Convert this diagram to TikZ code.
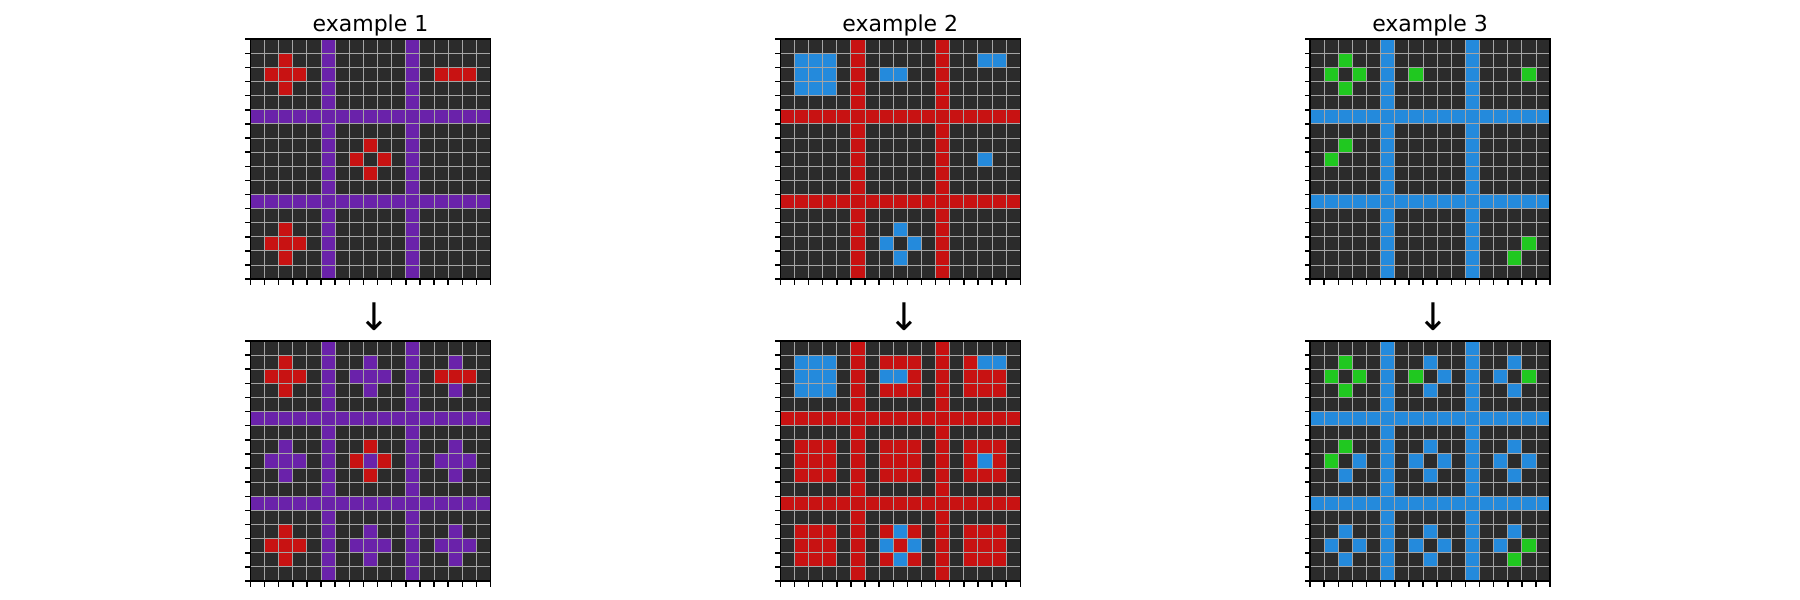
\documentclass[tikz,border=0pt]{standalone}
\usepackage{fontspec}
\setmainfont{DejaVu Sans}
\newcommand{\titlefont}{\fontsize{11}{13}\selectfont}
\newcommand{\arrowfont}{\fontsize{19}{22}\selectfont}

\definecolor{cellbg}{RGB}{43,43,43}
\definecolor{gridgray}{RGB}{165,165,165}
\definecolor{arcpurple}{RGB}{106,34,170}
\definecolor{arcred}{RGB}{200,18,18}
\definecolor{arcblue}{RGB}{36,138,220}
\definecolor{arcgreen}{RGB}{32,200,32}

\tikzset{
  gridline/.style={draw=gridgray, line width=0.5pt},
  spine/.style={draw=black, line width=0.75pt},
  tickmark/.style={draw=black, line width=0.75pt},
  titletext/.style={font=\titlefont, anchor=base, inner sep=0pt},
  arrowtext/.style={font=\arrowfont, inner sep=0pt},
}

% cell size in px
\newcommand{\cs}{14.118}

% one board: #1 colour of the two lines, #2 what is filled in between
\newcommand{\board}[2]{%
  \fill[cellbg] (0,0) rectangle ({17*\cs},{17*\cs});
  \foreach \k in {5,11} {
    \fill[#1] ({\k*\cs},0) rectangle ++(\cs,{17*\cs});
    \fill[#1] (0,{\k*\cs}) rectangle ++({17*\cs},\cs);
  }
  #2
  \foreach \k in {1,...,16} {
    \draw[gridline] ({\k*\cs},0) -- ++(0,{17*\cs});
    \draw[gridline] (0,{\k*\cs}) -- ++({17*\cs},0);
  }
  \draw[spine] (0,0) rectangle ({17*\cs},{17*\cs});
  \foreach \k in {0,...,17} {
    \draw[tickmark] (0,{\k*\cs}) -- ++(-5.5,0);
    \draw[tickmark] ({\k*\cs},{17*\cs}) -- ++(0,5.5);
  }
}

% single cells, row/col (list given as a macro)
\newcommand{\cells}[2]{%
  \foreach \ra/\ca in #2
    \fill[#1] ({\ca*\cs},{\ra*\cs}) rectangle ++(\cs,\cs);
}

% shapes round the middle of every block
\newcommand{\pluses}[1]{%
  \foreach \R in {2,8,14} \foreach \C in {2,8,14} {
    \fill[#1] ({(\C-1)*\cs},{\R*\cs}) rectangle ++({3*\cs},\cs);
    \fill[#1] ({\C*\cs},{(\R-1)*\cs}) rectangle ++(\cs,{3*\cs});
  }
}
\newcommand{\squares}[1]{%
  \foreach \R in {2,8,14} \foreach \C in {2,8,14}
    \fill[#1] ({(\C-1)*\cs},{(\R-1)*\cs}) rectangle ++({3*\cs},{3*\cs});
}
\newcommand{\rings}[1]{%
  \foreach \R in {2,8,14} \foreach \C in {2,8,14}
    \foreach \dr/\dc in {-1/0,0/-1,0/1,1/0}
      \fill[#1] ({(\C+\dc)*\cs},{(\R+\dr)*\cs}) rectangle ++(\cs,\cs);
}

\newcommand{\redone}{1/2,2/1,2/2,2/3,3/2,2/13,2/14,2/15,7/8,8/7,8/9,9/8,13/2,14/1,14/2,14/3,15/2}
\newcommand{\bluetwo}{1/1,1/2,1/3,2/1,2/2,2/3,3/1,3/2,3/3,2/7,2/8,1/14,1/15,8/14,13/8,14/7,14/9,15/8}
\newcommand{\greenthree}{1/2,2/1,2/3,3/2,2/7,2/15,7/2,8/1,14/15,15/14}

\begin{document}
\begin{tikzpicture}[x=0.5pt, y=-0.5pt]
  \useasboundingbox (0,0) rectangle (1800,600);

  % example 1
  \begin{scope}[shift={(250.5,39.2)}]
    \board{arcpurple}{\cells{arcred}{\redone}}
  \end{scope}
  \begin{scope}[shift={(250.5,341)}]
    \board{arcpurple}{\pluses{arcpurple}\cells{arcred}{\redone}}
  \end{scope}

  % example 2
  \begin{scope}[shift={(780.3,39.2)}]
    \board{arcred}{\cells{arcblue}{\bluetwo}}
  \end{scope}
  \begin{scope}[shift={(780.3,341)}]
    \board{arcred}{\squares{arcred}\cells{arcblue}{\bluetwo}}
  \end{scope}

  % example 3
  \begin{scope}[shift={(1310.1,39.2)}]
    \board{arcblue}{\cells{arcgreen}{\greenthree}}
  \end{scope}
  \begin{scope}[shift={(1310.1,341)}]
    \board{arcblue}{\rings{arcblue}\cells{arcgreen}{\greenthree}}
  \end{scope}

  % titles and arrows
  \foreach \n/\x in {1/370.5, 2/900.3, 3/1430.1} {
    \node[titletext] (title\n) at (\x,31.7) {example \n};
    \node[arrowtext] (arrow\n) at (\x+3.7,316.7) {↓};
  }
\end{tikzpicture}
\end{document}
